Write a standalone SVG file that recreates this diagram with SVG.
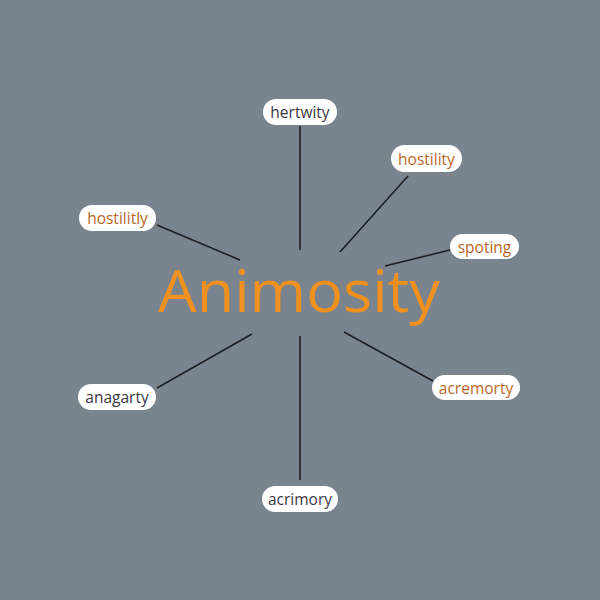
<svg xmlns="http://www.w3.org/2000/svg" width="600" height="600" viewBox="0 0 600 600">
<style>
.pill{fill:#ffffff;}
.lbl{font-family:"Open Sans","Noto Sans",sans-serif;font-size:15.5px;text-anchor:middle;dominant-baseline:central;}
.dark{fill:#3a3844;}
.org{fill:#b8672c;}
.edge{stroke:#1e2024;stroke-width:1.6;fill:none;}
</style>
<rect width="600" height="600" fill="#7a848e"/>
<g id="connectors">
<line class="edge" x1="300" y1="126" x2="300" y2="250"/>
<line class="edge" x1="408" y1="176" x2="340" y2="252"/>
<line class="edge" x1="157" y1="225" x2="240" y2="260"/>
<line class="edge" x1="450" y1="250" x2="385" y2="266"/>
<line class="edge" x1="433" y1="381" x2="344" y2="332"/>
<line class="edge" x1="157" y1="388" x2="252" y2="334"/>
<line class="edge" x1="300" y1="336" x2="300" y2="480"/>
</g>
<g id="center">
<text x="299" y="312" font-family="Open Sans, Noto Sans, sans-serif" font-size="59" font-weight="500" fill="#f0901e" text-anchor="middle" textLength="282" lengthAdjust="spacingAndGlyphs">Animosity</text>
</g>
<g id="n-hertwity"><rect class="pill" x="263" y="99" width="74" height="26" rx="13"/><text class="lbl dark" x="300" y="112">hertwity</text></g>
<g id="n-hostility"><rect class="pill" x="391" y="145" width="71" height="27" rx="13.5"/><text class="lbl org" x="426.5" y="158.5">hostility</text></g>
<g id="n-hostilitly"><rect class="pill" x="79" y="205" width="77" height="26" rx="13"/><text class="lbl org" x="117.5" y="218">hostilitly</text></g>
<g id="n-spoting"><rect class="pill" x="450" y="234" width="69" height="25" rx="12.5"/><text class="lbl org" x="484.5" y="246.5">spoting</text></g>
<g id="n-acremorty"><rect class="pill" x="432" y="375" width="88" height="25" rx="12.5"/><text class="lbl org" x="476" y="387.5">acremorty</text></g>
<g id="n-anagarty"><rect class="pill" x="78" y="384" width="78" height="26" rx="13"/><text class="lbl dark" x="117" y="397">anagarty</text></g>
<g id="n-acrimory"><rect class="pill" x="262" y="486" width="76" height="26" rx="13"/><text class="lbl dark" x="300" y="499">acrimory</text></g>
</svg>
